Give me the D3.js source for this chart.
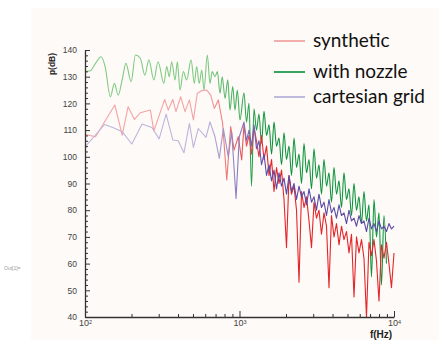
<!DOCTYPE html>
<html>
<head>
<meta charset="utf-8">
<script src="https://cdn.jsdelivr.net/npm/d3@7"></script>
<style>
  body { margin: 0; background: #fff; }
  svg text { font-family: "Liberation Sans", Arial, sans-serif; }
</style>
</head>
<body>
<div id="grafico"></div>
<script>
// --- datos ---
// frecuencias (Hz) de la zona densa, comunes a las tres series
const freqHi = [1069,1110,1152,1196,1241,1288,1337,1388,1441,1496,1553,1612,1673,1736,1802,1871,1941,2015,2092,2171,
  2254,2339,2428,2520,2616,2715,2818,2925,3036,3151,3270,3394,3523,3657,3795,3939,4089,4244,4406,4573,
  4746,4926,5113,5307,5509,5718,5934,6160,6393,6636,6888,7149,7420,7702,7994,8297,8612,8939,9278,9634,10000];

// synthetic
const synthFreqLo = [100,117,156,174,190,209,228,265,279,328,346,370,388,416,444,474,503,533,570,614,651,687,729,778,827,877,922,982,1033];
const synthDbLo = [108.4,107.5,119.4,108.1,118.7,114,116.5,117.5,109.7,121.5,117.5,121.5,116.9,122.5,116.9,121.3,113.8,123.7,124.8,125,123.1,118.1,121.3,112.5,91.3,111.3,102.5,107.5,98.8];
const synthDbHi = [112,104,108,101,111,106,100,108,99,104,93,99,87,96,90,95,84,66,93,86,89,80,53,87,81,85,76,66,83,77,
  80,71,79,74,51,78,70,75,67,74,69,72,64,71,47.5,70,64,69,62,40,68,63,69,61,46,67,62,68,60,51,64];

// with nozzle
const nozzleFreqLo = [100,108,117,127,135,146,155,164,174,184,199,212,228,244,259,279,297,324,338,351,364,383,396,412,433,455,486,510,528,549,570,589,619,644,666,694,719,748,773,806,840,868,904,935,968,1007];
const nozzleDbLo = [131.9,132.2,135,137.5,133.8,122.5,127.5,123.1,128.8,135,128.1,138.1,136.9,130.6,136.3,128.8,135.6,127.5,133.8,130,135.6,128.8,135.6,125,131.9,128.8,136.3,127.5,133.8,127.5,132.5,125,138.1,127.5,131.9,130,131.9,123.8,130,121.9,128.8,117.5,126.3,117.5,125,113.8];
const nozzleDbHi = [124,113,120,89,118,110,116,105,117,108,112,101,113,104,107,97,109,99,104,93,107,96,101,90,105,94,99,88,103,92,
  97,86,99,89,94,83,96,86,91,81,94,84,88,78,90,80,85,75,87,76,82,55,84,70,79,52,78,60];

// cartesian grid
const cartFreqLo = [100,134,157,174,201,234,271,302,335,370,401,437,474,503,541,607,644,694,740,786,846,890,950,997];
const cartDbLo = [103.7,112.1,110.6,109.4,104.8,112.3,111,106.7,116,106.3,106,101.5,112.5,103.5,110.6,107.3,113.1,107.5,99.4,110.6,100,109.4,84.4,107.5];
const cartDbHi = [113,106,110,104,112,103,106,97,101,93,97,91,95,88,94,89,92,86,93,87,90,84,89,85,87,82,88,83,85,80,
  86,81,83,78,84,79,81,77,82,78,79,75,80,76,77,74,78,75,76,72,77,73,75,72,76,73,74,72,75,73,74];

const xMajor = [100, 1000, 10000];
const xMinor = [200,300,400,500,600,700,800,900,2000,3000,4000,5000,6000,7000,8000,9000];
const yMajor = [40,50,60,70,80,90,100,110,120,130,140];
const yMinor = d3.range(40, 141, 2).filter(v => v % 10 !== 0);

const etiquetas = ["synthetic", "with nozzle", "cartesian grid"];

// une la parte baja y la parte densa
function serie(fLo, dbLo, dbHi) {
    const a = fLo.map((f, i) => ({ f, db: dbLo[i] }));
    const b = dbHi.map((db, i) => ({ f: freqHi[i], db }));
    return a.concat(b);
}

const series = [
    { nombre: "nozzle", datos: serie(nozzleFreqLo, nozzleDbLo, nozzleDbHi), claro: "#7fcb82", oscuro: "#0e943c", curva: d3.curveMonotoneX },
    { nombre: "synth", datos: serie(synthFreqLo, synthDbLo, synthDbHi), claro: "#f4a3a3", oscuro: "#e2262b", curva: d3.curveLinear },
    { nombre: "cart", datos: serie(cartFreqLo, cartDbLo, cartDbHi), claro: "#bdb5dd", oscuro: "#5a4aa6", curva: d3.curveLinear }
];

const svgWidth = 439, svgHeight = 340;

const svg = d3.select("#grafico")
    .append("svg")
    .attr("width", svgWidth)
    .attr("height", svgHeight);

// fondo crema de la imagen
svg.append("rect")
    .attr("x", 31).attr("y", 8)
    .attr("width", svgWidth - 31).attr("height", svgHeight - 8)
    .attr("fill", "#fefaf7");

svg.append("text")
    .attr("x", 4).attr("y", 270)
    .attr("fill", "#9a9a9a")
    .style("font-size", "5px")
    .text("Out[1]=");

const x = d3.scaleLog().domain([100, 10000]).range([85, 394]);
const y = d3.scaleLinear().domain([40, 140]).range([317, 50]);

// gradientes: claro en la zona dispersa, oscuro en la densa
const defs = svg.append("defs");
series.forEach(s => {
    const g = defs.append("linearGradient")
        .attr("id", "grad-" + s.nombre)
        .attr("gradientUnits", "userSpaceOnUse")
        .attr("x1", x(600)).attr("y1", 0)
        .attr("x2", x(1500)).attr("y2", 0);
    g.append("stop").attr("offset", "0%").attr("stop-color", s.claro);
    g.append("stop").attr("offset", "100%").attr("stop-color", s.oscuro);
});

const linea = d3.line()
    .x(d => x(d.f))
    .y(d => y(d.db));

series.forEach(s => {
    svg.append("path")
        .datum(s.datos)
        .attr("fill", "none")
        .attr("stroke", `url(#grad-${s.nombre})`)
        .attr("stroke-width", 1.1)
        .attr("stroke-linejoin", "round")
        .attr("d", linea.curve(s.curva));
});

// Ejes
const colorEje = "#333";

const ejeY = svg.append("g")
    .attr("transform", `translate(${x(100)},0)`)
    .call(d3.axisLeft(y).tickValues(yMajor).tickSizeInner(-5).tickSizeOuter(0).tickPadding(8));
svg.append("g")
    .attr("transform", `translate(${x(100)},0)`)
    .call(d3.axisLeft(y).tickValues(yMinor).tickSizeInner(-3).tickSizeOuter(0).tickFormat(""))
    .select(".domain").remove();

const ejeX = svg.append("g")
    .attr("transform", `translate(0,${y(40)})`)
    .call(d3.axisBottom(x).tickValues(xMajor).tickSizeInner(-6).tickSizeOuter(0).tickPadding(3).tickFormat(""));
svg.append("g")
    .attr("transform", `translate(0,${y(40)})`)
    .call(d3.axisBottom(x).tickValues(xMinor).tickSizeInner(-3).tickSizeOuter(0).tickFormat(""))
    .select(".domain").remove();

svg.selectAll(".domain").attr("stroke", colorEje).attr("stroke-width", 1.3);
svg.selectAll(".tick line").attr("stroke", colorEje).attr("stroke-width", 1);

ejeY.selectAll(".tick text")
    .attr("fill", "#444")
    .style("font-size", "8.5px");

ejeX.selectAll(".tick text")
    .attr("fill", "#444")
    .style("font-size", "9px")
    .each(function (d) {
        const t = d3.select(this);
        t.append("tspan").text("10");
        t.append("tspan")
            .attr("dy", "-0.4em")
            .style("font-size", "5.5px")
            .text(Math.round(Math.log10(d)));
    });

// titulos de ejes
svg.append("text")
    .attr("transform", "translate(55,64) rotate(-90)")
    .attr("text-anchor", "middle")
    .attr("fill", "#222")
    .style("font-size", "8.5px")
    .style("font-weight", "bold")
    .text("p(dB)");

svg.append("text")
    .attr("x", 381).attr("y", 338)
    .attr("text-anchor", "middle")
    .attr("fill", "#222")
    .style("font-size", "10px")
    .style("font-weight", "bold")
    .text("f(Hz)");

// Leyenda
const legendY = [41, 72, 97];
const legendColor = ["#f2a5a5", "#1e9a4e", "#b9b3d8"];

const legend = svg.append("g");
etiquetas.forEach((et, i) => {
    legend.append("line")
        .attr("x1", 274).attr("x2", 305)
        .attr("y1", legendY[i]).attr("y2", legendY[i])
        .attr("stroke", legendColor[i])
        .attr("stroke-width", 1.8);
    legend.append("text")
        .attr("x", 313).attr("y", legendY[i] + 6)
        .attr("fill", "#111")
        .style("font-family", "Lato, 'Open Sans', sans-serif")
        .style("font-size", "19px")
        .text(et);
});
</script>
</body>
</html>
